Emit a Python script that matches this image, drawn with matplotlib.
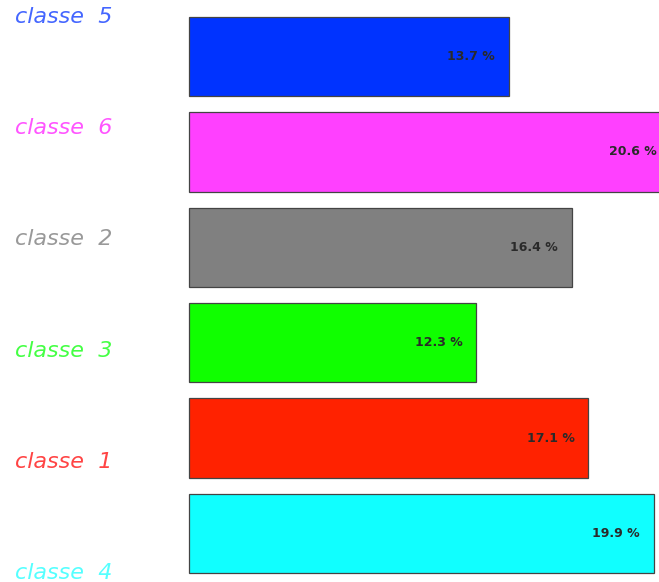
import matplotlib

matplotlib.use("Agg")
import matplotlib.pyplot as plt
import numpy as np

# classes top to bottom, share in %
CLASSES = ["classe  5", "classe  6", "classe  2", "classe  3", "classe  1", "classe  4"]
PCT = [13.7, 20.6, 16.4, 12.3, 17.1, 19.9]
BAR_COLORS = ["#0033ff", "#ff40ff", "#808080", "#10ff00", "#ff2200", "#10ffff"]
LABEL_COLORS = ["#4466ff", "#ff55ff", "#999999", "#44ff44", "#ff4444", "#55ffff"]

W, H = 659, 582
fig = plt.figure(figsize=(W / 100, H / 100), dpi=100)
ax = fig.add_axes([189 / W, 1 - 573 / H, 1 - 189 / W, (573 - 17) / H])

y = np.arange(len(CLASSES))
hh = 0.83
bars = ax.barh(y, PCT, height=hh, color=BAR_COLORS, edgecolor="#444444", linewidth=0.9)
for b in bars:
    b.set_clip_on(False)
ax.set_ylim(len(CLASSES) - 1 + hh / 2, -hh / 2)
ax.set_xlim(0, 470 / 23.36)
ax.axis("off")

# value text just inside the bar end
for yi, p in zip(y, PCT):
    ax.annotate(f"{p} %", (p, yi), xytext=(-10, 0), textcoords="offset points",
                ha="right", va="center", fontsize=9, fontweight="bold", color="#2a2a2a",
                family="DejaVu Sans", annotation_clip=False)

# class labels on the left, evenly spread over the plot height
label_y = np.linspace(1 - 17 / H, 1 - 573 / H, len(CLASSES))
for ly, name, c in zip(label_y, CLASSES, LABEL_COLORS):
    fig.text(15 / W, ly, name, ha="left", va="center", fontsize=16, style="oblique",
             color=c, family="DejaVu Sans")

fig.savefig("out.png", dpi=100)
